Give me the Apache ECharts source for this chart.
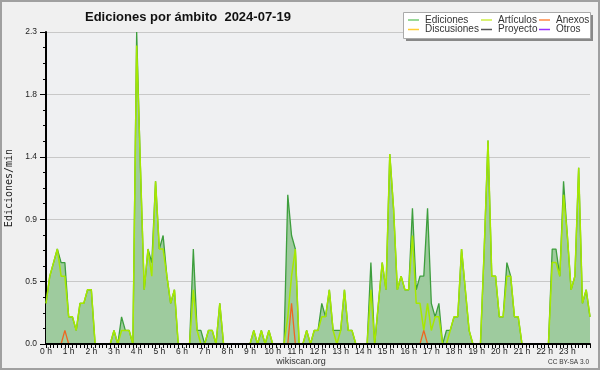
<!DOCTYPE html>
<html><head><meta charset="utf-8">
<script src="https://cdn.jsdelivr.net/npm/echarts@6/dist/echarts.min.js"></script>
<style>html,body{margin:0;padding:0;background:#f0f0f0}#c{width:600px;height:370px}</style>
</head><body><div id="c"></div>
<script>
// 10-minute slots, values in edits/min
const slotMinutes = 10;
const ediciones = [
0.3,0.5,0.6,0.7,0.6,0.6,0.2,0.2,0.1,0.3,
0.3,0.4,0.4,0,0,0,0,0,0.1,0,
0.2,0.1,0.1,0,2.3,1.3,0.4,0.7,0.6,1.2,
0.7,0.8,0.5,0.3,0.4,0,0,0,0,0.7,
0.1,0.1,0,0.1,0.1,0,0.3,0,0,0,
0,0,0,0,0,0.1,0,0.1,0,0.1,
0,0,0,0,1.1,0.8,0.7,0,0,0.1,
0,0.1,0.1,0.3,0.2,0.4,0.1,0.1,0.1,0.4,
0.1,0.1,0,0,0,0,0.6,0,0.3,0.6,
0.4,1.4,1.0,0.4,0.5,0.4,0.4,1.0,0.4,0.5,
0.5,1.0,0.3,0.2,0.3,0,0.1,0.1,0.2,0.2,
0.7,0.4,0.1,0,0,0,0.7,1.5,0.5,0.5,
0.2,0.2,0.6,0.5,0.2,0.2,0,0,0,0,
0,0,0,0,0.7,0.7,0.5,1.2,0.8,0.4,
0.5,1.3,0.3,0.4,0.2
];
const articulos = [
0.3,0.5,0.6,0.7,0.5,0.5,0.2,0.2,0.1,0.3,
0.3,0.4,0.4,0,0,0,0,0,0.1,0,
0.1,0.1,0.1,0,2.2,1.3,0.4,0.7,0.5,1.2,
0.7,0.7,0.5,0.3,0.4,0,0,0,0,0.4,
0.1,0,0,0.1,0.1,0,0.3,0,0,0,
0,0,0,0,0,0.1,0,0.1,0,0.1,
0,0,0,0,0.2,0.5,0.7,0,0,0.1,
0,0.1,0.1,0.2,0.2,0.4,0.1,0,0.1,0.4,
0.1,0.1,0,0,0,0,0.4,0,0.3,0.6,
0.4,1.4,1.0,0.4,0.5,0.4,0.4,0.8,0.3,0.3,
0.1,0.3,0.1,0.2,0.2,0,0,0.1,0.2,0.2,
0.7,0.4,0.1,0,0,0,0.7,1.5,0.5,0.5,
0.2,0.2,0.5,0.5,0.2,0.2,0,0,0,0,
0,0,0,0,0.6,0.6,0.5,1.1,0.8,0.4,
0.5,1.3,0.3,0.4,0.2
];
const anexosSlots = [5, 65, 100];
const anexosValues = [0.1, 0.3, 0.1];
const xTickLabels = ['0 h','1 h','2 h','3 h','4 h','5 h','6 h','7 h','8 h','9 h','10 h','11 h','12 h','13 h','14 h','15 h','16 h','17 h','18 h','19 h','20 h','21 h','22 h','23 h'];
const yTickLabels = ['0.0','0.5','0.9','1.4','1.8','2.3'];
const legendNames = ['Ediciones','Artículos','Anexos','Discusiones','Proyecto','Otros'];
const legendColors = ['#77cc77','#ccee44','#ff8844','#ffcc33','#555555','#9933ff'];

const anexos = ediciones.map(() => 0);
anexosSlots.forEach((s, k) => { anexos[s] = anexosValues[k]; });
const toPairs = arr => arr.map((v, i) => [i * slotMinutes / 60, v]);

const legendPos = [[408,15],[481,15],[539,15],[408,24.5],[481,24.5],[539,24.5]];
const chart = echarts.init(document.getElementById('c'), null, {renderer:'canvas'});
chart.setOption({
  animation: false,
  backgroundColor: '#f0f0f0',
  title: {text: 'Ediciones por ámbito  2024-07-19', left: 85, top: 10, padding: 0,
    textStyle: {fontSize: 13, fontWeight: 'bold', fontFamily: 'Liberation Sans', color: '#111', lineHeight: 14}},
  grid: {left: 46, right: 10, top: 32, bottom: 26, show: true, backgroundColor: '#eff0f2', borderWidth: 0,
    containLabel: false, outerBoundsMode: 'none'},
  xAxis: {type: 'value', min: 0, max: 24, interval: 1, z: 5,
    axisLine: {lineStyle: {color: '#000', width: 2}},
    axisTick: {length: 4, lineStyle: {color: '#000'}},
    minorTick: {show: true, splitNumber: 6, length: 4, lineStyle: {color: '#000'}},
    splitLine: {show: false},
    axisLabel: {margin: 3, fontSize: 8.5, fontFamily: 'Liberation Sans', color: '#222',
      formatter: v => xTickLabels[Math.round(v)] || ''}},
  yAxis: {type: 'value', min: 0, max: 2.3, interval: 0.46,
    name: 'Ediciones/min', nameLocation: 'middle', nameRotate: 90, nameGap: 32,
    nameTextStyle: {fontFamily: 'DejaVu Sans Mono', fontSize: 10, color: '#222'},
    axisLine: {show: true, lineStyle: {color: '#000', width: 2}},
    axisTick: {show: true, length: 6, lineStyle: {color: '#000'}},
    minorTick: {show: true, splitNumber: 4, length: 3, lineStyle: {color: '#000'}},
    splitLine: {lineStyle: {color: '#c8c8c8'}},
    axisLabel: {margin: 9, fontSize: 8.5, fontFamily: 'Liberation Sans', color: '#222',
      formatter: v => yTickLabels[Math.round(v / 0.46)]}},
  legend: legendNames.map((n, k) => ({
    data: [n], left: legendPos[k][0], top: legendPos[k][1], padding: 0, icon: 'rect',
    itemWidth: 11, itemHeight: 1.5, selectedMode: false, z: 10,
    textStyle: {fontSize: 10, fontFamily: 'Liberation Sans', color: '#333', lineHeight: 10, padding: [0,0,0,1]}
  })),
  graphic: [
    {type: 'rect', z: 5, shape: {x: 406, y: 15, width: 187, height: 26}, style: {fill: '#888'}},
    {type: 'rect', z: 6, shape: {x: 403.5, y: 12.5, width: 187, height: 26}, style: {fill: '#fff', stroke: '#aaa', lineWidth: 1}},
    {type: 'rect', z: 20, shape: {x: 1, y: 1, width: 598, height: 368}, style: {fill: 'none', stroke: '#a0a0a0', lineWidth: 2}},
    {type: 'text', z: 20, style: {text: 'wikiscan.org', x: 301, y: 361.5, align: 'center', verticalAlign: 'middle', fill: '#333', font: '9px "Liberation Sans"'}},
    {type: 'text', z: 20, style: {text: 'CC BY-SA 3.0', x: 589, y: 362.5, align: 'right', verticalAlign: 'middle', fill: '#333', font: '6.5px "Liberation Sans"'}}
  ],
  series: [
    {name: 'Ediciones', type: 'line', color: legendColors[0], data: toPairs(ediciones), symbol: 'none', z: 2,
      lineStyle: {color: '#3d9e3d', width: 1.3}, areaStyle: {color: '#9ecb9e', opacity: 1}},
    {name: 'Artículos', type: 'line', color: legendColors[1], data: toPairs(articulos), symbol: 'none', z: 3,
      lineStyle: {color: '#a6e800', width: 1.5}},
    {name: 'Anexos', type: 'line', color: legendColors[2], data: toPairs(anexos), symbol: 'none', z: 4,
      lineStyle: {color: '#ee6622', width: 1.3}},
    {name: 'Discusiones', type: 'line', color: legendColors[3], data: [], symbol: 'none'},
    {name: 'Proyecto', type: 'line', color: legendColors[4], data: [], symbol: 'none'},
    {name: 'Otros', type: 'line', color: legendColors[5], data: [], symbol: 'none'}
  ]
});
</script></body></html>
